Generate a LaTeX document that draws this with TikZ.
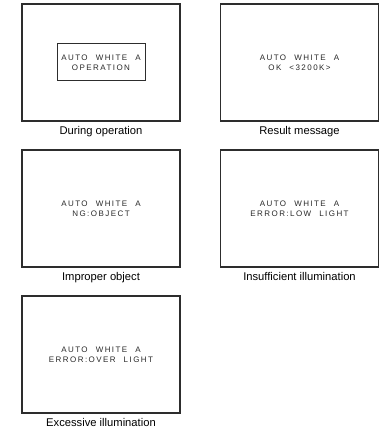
\documentclass[tikz,border=0pt]{standalone}
\usepackage{fontspec}
\setmainfont{Liberation Sans}
\newfontfamily\osdfont[LetterSpace=18,WordSpace=2.2]{Liberation Sans}
\usetikzlibrary{positioning}
\definecolor{frameGray}{RGB}{45,45,45}
\definecolor{osdGray}{RGB}{40,40,40}
\tikzset{
  screen/.style={rectangle,draw=frameGray,line width=1.3pt,minimum width=158pt,minimum height=117pt,inner sep=0pt,align=center,font=\osdfont\fontsize{8}{9.5}\selectfont,text=osdGray},
  osdbox/.style={rectangle,draw=frameGray,line width=1pt,minimum width=88pt,minimum height=37pt,inner sep=0pt,align=center,font=\osdfont\fontsize{8}{9.5}\selectfont,text=osdGray},
  caption/.style={font=\fontsize{11.2}{12}\selectfont,inner sep=0pt,anchor=north}
}
\begin{document}
\begin{tikzpicture}[x=1pt,y=-1pt]
  \useasboundingbox (0,0) rectangle (381,430);
  % row 1
  \node[screen] (s1) at (101,62.5) {};
  \node[osdbox] (op) at (s1.center) {AUTO WHITE A\\OPERATION};
  \node[screen] (s2) at (299.5,62.5) {AUTO WHITE A\\OK <3200K>};
  % row 2
  \node[screen] (s3) at (101,208.5) {AUTO WHITE A\\NG:OBJECT};
  \node[screen] (s4) at (299.5,208.5) {AUTO WHITE A\\ERROR:LOW LIGHT};
  % row 3
  \node[screen] (s5) at (101,354.5) {AUTO WHITE A\\ERROR:OVER LIGHT};

  \node[caption,below=5pt of s1] (c1) {During operation};
  \node[caption,below=5pt of s2] (c2) {Result message};
  \node[caption,below=5pt of s3] (c3) {Improper object};
  \node[caption,below=5pt of s4] (c4) {Insufficient illumination};
  \node[caption,below=5pt of s5] (c5) {Excessive illumination};
\end{tikzpicture}
\end{document}
